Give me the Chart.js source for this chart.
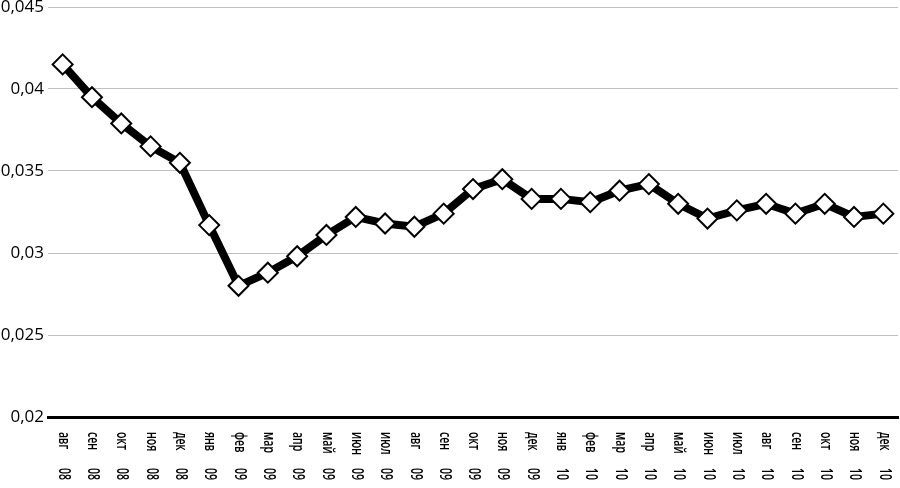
<!DOCTYPE html>
<html>
<head>
<meta charset="utf-8">
<script src="https://cdn.jsdelivr.net/npm/chart.js@4/dist/chart.umd.min.js"></script>
<style>
  html, body { margin: 0; padding: 0; background: #fff; }
  #wrap { width: 900px; height: 488px; }
</style>
</head>
<body>
<div id="wrap"><canvas id="myChart" width="900" height="488"></canvas></div>
<script>
// months and years for the category axis
const months = ['авг','сен','окт','ноя','дек',
  'янв','фев','мар','апр','май','июн','июл','авг','сен','окт','ноя','дек',
  'янв','фев','мар','апр','май','июн','июл','авг','сен','окт','ноя','дек'];
const years = ['08','08','08','08','08',
  '09','09','09','09','09','09','09','09','09','09','09','09',
  '10','10','10','10','10','10','10','10','10','10','10','10'];
const labels = months.map((m, i) => m + ' ' + years[i]);

const values = [0.0415, 0.0395, 0.0379, 0.0365, 0.0355,
  0.0317, 0.0280, 0.0288, 0.0298, 0.0311, 0.0322, 0.0318, 0.0316, 0.0324, 0.0339, 0.0345, 0.0333,
  0.0333, 0.0331, 0.0338, 0.0342, 0.0330, 0.0321, 0.0326, 0.0330, 0.0324, 0.0330, 0.0322, 0.0324];

const yTicks = [0.02, 0.025, 0.03, 0.035, 0.04, 0.045];

// x labels read top-to-bottom and are squeezed, so draw them by hand
const xLabelPlugin = {
  id: 'xLabels',
  afterDraw(chart) {
    const xs = chart.scales.x;
    const ctx = chart.ctx;
    ctx.save();
    ctx.fillStyle = '#000';
    ctx.font = '600 17px "Open Sans"';
    ctx.textBaseline = 'middle';
    ctx.textAlign = 'left';
    months.forEach((m, i) => {
      const x = xs.getPixelForTick(i);
      ctx.save();
      ctx.translate(x + 1, xs.top + 15);
      ctx.rotate(Math.PI / 2);
      ctx.scale(0.62, 1);
      ctx.fillText(m, 0, 0);
      ctx.fillText(years[i], 36 / 0.62, 0);
      ctx.restore();
    });
    ctx.restore();
  }
};

const ctx = document.getElementById('myChart').getContext('2d');
new Chart(ctx, {
  type: 'line',
  data: {
    labels: labels,
    datasets: [{
      data: values,
      borderColor: '#000',
      borderWidth: 8,
      pointStyle: 'rectRot',
      pointRadius: 10,
      pointBorderWidth: 2,
      pointBackgroundColor: '#fff',
      pointBorderColor: '#000',
      tension: 0,
      fill: false
    }]
  },
  options: {
    responsive: false,
    animation: false,
    layout: { autoPadding: false, padding: { top: 0, right: 2, left: 0, bottom: 0 } },
    plugins: { legend: { display: false }, tooltip: { enabled: false } },
    scales: {
      x: {
        offset: true,
        grid: { display: false, drawTicks: false },
        border: { display: true, color: '#000', width: 3 },
        ticks: { display: false },
        afterFit(scale) { scale.height = 71; }
      },
      y: {
        min: 0.02,
        max: 0.045,
        afterBuildTicks(scale) { scale.ticks = yTicks.map(v => ({ value: v })); },
        grid: { color: '#c0c0c0', lineWidth: 1, drawTicks: false },
        border: { display: false },
        ticks: {
          color: '#000',
          padding: 4,
          font: { family: '"Open Sans"', size: 17, weight: '500' },
          callback: v => String(v).replace('.', ',')
        },
        afterFit(scale) {
          scale.width = 48;
          scale.paddingTop = 7;
          scale.paddingBottom = 0;
        }
      }
    }
  },
  plugins: [xLabelPlugin]
});
</script>
</body>
</html>
